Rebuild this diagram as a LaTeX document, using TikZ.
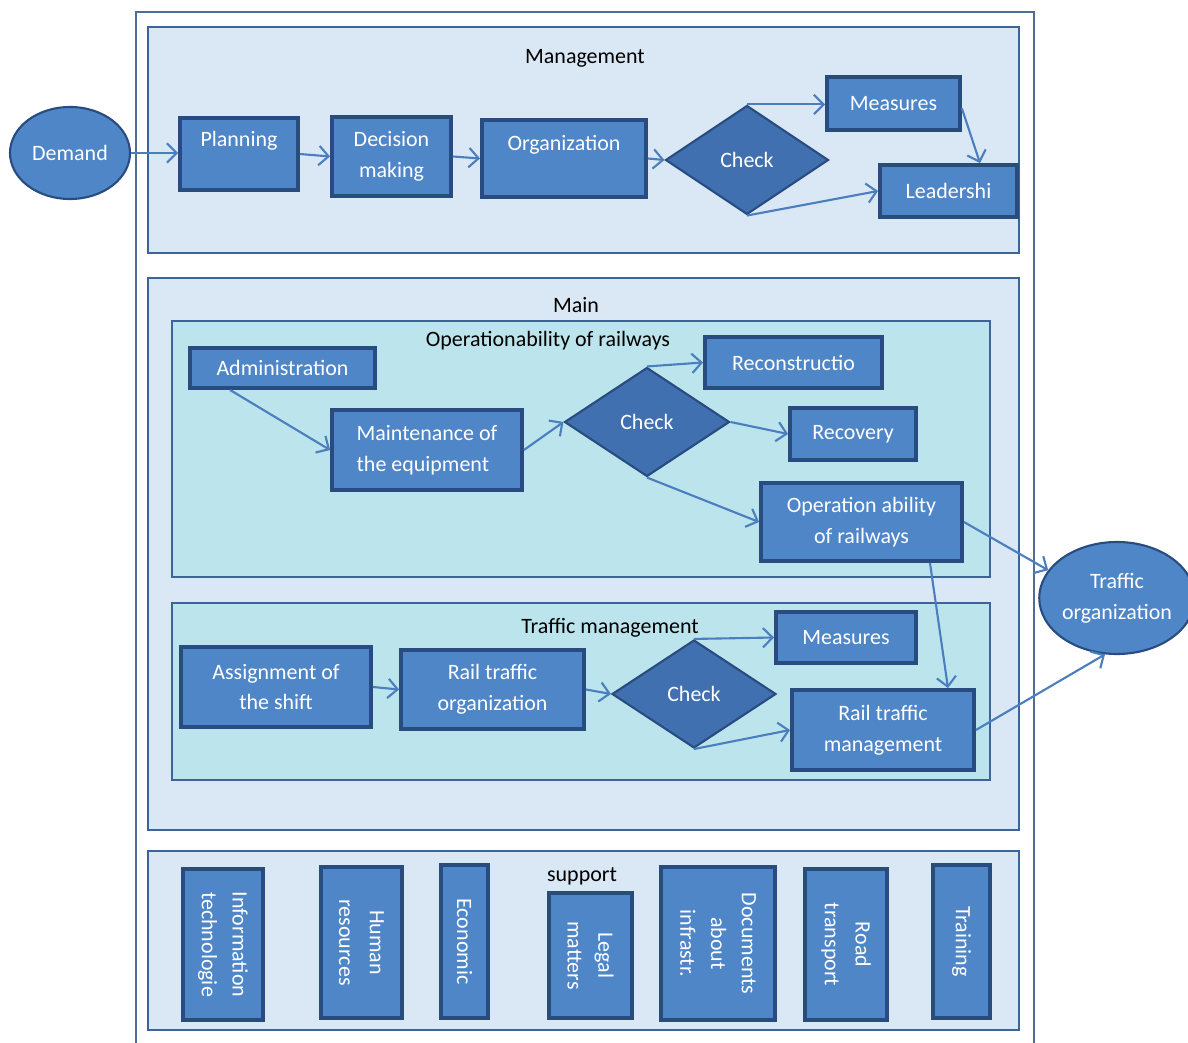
\documentclass[tikz,border=0pt]{standalone}
\usepackage{fontspec}
\setmainfont{Carlito}
\usetikzlibrary{shapes.geometric,arrows.meta}
\definecolor{panelfill}{RGB}{218,231,245}
\definecolor{aquafill}{RGB}{188,228,237}
\definecolor{panelborder}{RGB}{60,100,150}
\definecolor{outercol}{RGB}{78,110,150}
\definecolor{nodefill}{RGB}{79,134,200}
\definecolor{nodeborder}{RGB}{40,76,128}
\definecolor{diafill}{RGB}{65,112,176}
\definecolor{arrowcol}{RGB}{74,126,190}
\begin{document}
\begin{tikzpicture}[x=0.02cm,y=-0.02cm,
  sz/.style 2 args={minimum width=#1*0.02cm,minimum height=#2*0.02cm},
  box/.style={rectangle,draw=nodeborder,line width=2.2pt,fill=nodefill,text=white,
    font=\fontsize{12.5}{17.5}\selectfont,align=center,inner sep=0pt},
  dia/.style={box,diamond,fill=diafill,line width=1.2pt},
  oval/.style={box,ellipse,line width=1.2pt},
  vbox/.style={box,rotate=-90},
  title/.style={font=\fontsize{12.5}{17.5}\selectfont,text=black,inner sep=0pt},
  panel/.style={draw=panelborder,line width=1.4pt,fill=panelfill},
  apanel/.style={panel,fill=aquafill},
  arr/.style={draw=arrowcol,line width=1.2pt,-{Straight Barb[length=5.5pt,width=11pt,line width=1.2pt]}}
]
\useasboundingbox (0,0) rectangle (1188,1043);
% outer frame
\draw[outercol,line width=1.2pt] (136,1043) -- (136,12) -- (1034,12) -- (1034,1043);
% panels
\draw[panel] (148,27) rectangle (1019,253);
\draw[panel] (148,278) rectangle (1019,830);
\draw[apanel] (172,321) rectangle (990,577);
\draw[apanel] (172,603) rectangle (990,780);
\draw[panel] (148,851) rectangle (1019,1030);
% titles
\node[title] (tmgmt) at (585,58) {Management};
\node[title] (tmain) at (576,305) {Main};
\node[title] (toper) at (548,341) {Operationability of railways};
\node[title] (ttraf) at (610,628) {Traffic management};
\node[title] (tsup) at (582,876) {support};
% management
\node[oval,sz={120}{92}] (demand) at (70,153) {Demand};
\node[box,sz={118}{72}] (plan) at (239,154) {Planning\\~};
\node[box,sz={119}{79}] (dec) at (391.5,156.5) {Decision\\making};
\node[box,sz={164}{77}] (org) at (564,158.5) {Organization\\~};
\node[dia,sz={163}{109}] (chk1) at (747,160) {Check};
\node[box,sz={133}{53}] (meas1) at (893.5,103.5) {Measures};
\node[box,sz={137}{52}] (lead) at (948.5,191) {Leadershi};
% operationability
\node[box,sz={185}{40}] (adm) at (282.5,368) {Administration};
\node[box,sz={190}{80},align=left] (maint) at (427,450) {Maintenance of\\the equipment};
\node[dia,sz={165}{109}] (chk2) at (647,422) {Check};
\node[box,sz={177}{51}] (recon) at (793.5,362.5) {Reconstructio};
\node[box,sz={126}{52}] (recov) at (853,434) {Recovery};
\node[box,sz={201}{78}] (opab) at (861.5,522) {Operation ability\\of railways};
\node[oval,sz={142}{112}] (torg) at (1117,598) {Traffic\\organization};
% traffic management
\node[box,sz={190}{80}] (assign) at (276,687) {Assignment of\\the shift};
\node[box,sz={183}{79}] (rto) at (492.5,689.5) {Rail traffic\\organization};
\node[dia,sz={164}{108}] (chk3) at (694,694) {Check};
\node[box,sz={140}{51}] (meas2) at (846,637.5) {Measures};
\node[box,sz={182}{80}] (rtm) at (883,730) {Rail traffic\\management};
% support
\node[vbox,sz={151}{80}] (it) at (223,944.5) {Information\\technologie};
\node[vbox,sz={151}{81}] (hr) at (361.5,942.5) {Human\\resources};
\node[vbox,sz={153}{47}] (eco) at (464.5,941.5) {Economic};
\node[vbox,sz={125}{83}] (legal) at (590.5,955.5) {Legal\\matters};
\node[vbox,sz={153}{114}] (docs) at (718,943.5) {Documents\\about\\infrastr.};
\node[vbox,sz={151}{82}] (road) at (846,944.5) {Road\\transport};
\node[vbox,sz={153}{57}] (train) at (961.5,941.5) {Training};
% connectors
\draw[arr] (demand.east) -- (demand.east -| plan.west);
\draw[arr] (plan.east) -- (dec.west);
\draw[arr] (dec.east) -- (org.west);
\draw[arr] (org.east) -- (chk1.west);
\draw[arr] (chk1.north) -- (chk1.north -| meas1.west);
\draw[arr] (chk1.south) -- (lead.west);
\draw[arr] ([yshift=-0.1cm]meas1.east) -- ([xshift=0.63cm]lead.north);
\draw[arr] ([xshift=-1.05cm]adm.south) -- (maint.west);
\draw[arr] (maint.east) -- (chk2.west);
\draw[arr] (chk2.north) -- (recon.west);
\draw[arr] (chk2.east) -- (recov.west);
\draw[arr] (chk2.south) -- (opab.west);
\draw[arr] (opab.east) -- (torg.158);
\draw[arr] ([xshift=1.37cm]opab.south) -- ([xshift=1.3cm]rtm.north);
\draw[arr] (assign.east) -- (rto.west);
\draw[arr] (rto.east) -- (chk3.west);
\draw[arr] (chk3.north) -- (meas2.west);
\draw[arr] (chk3.south) -- (rtm.west);
\draw[arr] (rtm.east) -- (torg.258);
\end{tikzpicture}
\end{document}
